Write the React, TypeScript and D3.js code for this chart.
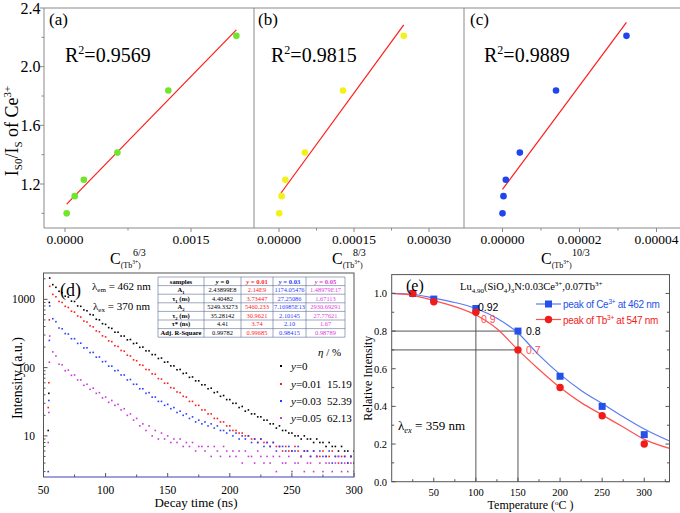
import React from 'react';
import * as d3 from 'd3';

const SERIF = '"Liberation Serif", "Times New Roman", Times, serif';
const SANS = '"Liberation Sans", Arial, Helvetica, sans-serif';

// ---------- (a)-(c) ----------
const ratioIs0Is = [1.0, 1.117, 1.229, 1.414, 1.837, 2.21];
const concA = [0.00002, 0.000116, 0.000224, 0.000624, 0.00123, 0.00204];
const concB = [0.0000004, 0.0000052, 0.0000127, 0.0000517, 0.000128, 0.0002495];
const concC = [0.0, 0.00000026, 0.00000086, 0.0000045, 0.0000139, 0.0000322];
const r2Labels = ['0.9569', '0.9815', '0.9889'];
const powerLabels = ['6/3', '8/3', '10/3'];
const panelLetters = ['(a)', '(b)', '(c)'];
const topYTicks = [1.2, 1.6, 2.0, 2.4];
const topYMinor = [1.0, 1.4, 1.8, 2.2];
const topXTicksA = [0, 0.0015];
const topXTicksB = [0, 0.00015, 0.0003];
const topXTicksC = [0, 0.00002, 0.00004];
const topXMinorA = [0.00075];
const topXMinorB = [0.000075, 0.000225];
const topXMinorC = [0.00001, 0.00003];

// ---------- (d) ----------
const decayLabels = ['y=0', 'y=0.01', 'y=0.03', 'y=0.05'];
const decayStart = 55;
const decayStep = 2.5;
const decayY0 = [
  2050, 1640, 1500, 1310, 1250, 1110, 1080, 940, 930, 800,
  790, 700, 680, 600, 590, 510, 500, 440, 430, 385,
  375, 330, 330, 290, 290, 255, 258, 225, 228, 198,
  200, 176, 176, 155, 155, 136, 138, 120, 121, 106,
  106, 93, 94, 82, 83, 72, 73, 64, 64, 56,
  56, 49, 50, 43, 44, 38, 39, 34, 34, 30,
  30, 26, 27, 23, 24, 21, 21, 19, 19, 17,
  17, 15, 15, 13, 14, 12, 12, 11, 11, 10,
  10, 9, 10, 9, 9, 8, 9, 8, 8, 7,
  8, 7, 7, 6, 7, 6, 6, 5, 6,
];
const decayY001 = [
  1550, 1180, 1090, 930, 900, 790, 760, 670, 650, 570,
  550, 480, 465, 410, 395, 345, 335, 292, 282, 246,
  240, 209, 204, 178, 174, 152, 148, 130, 126, 110,
  108, 94, 93, 81, 80, 69, 68, 59, 59, 51,
  50, 44, 43, 38, 37, 32, 32, 28, 28, 24,
  24, 21, 21, 18, 18, 16, 16, 14, 14, 12,
  12, 11, 11, 10, 10, 9, 9, 8, 9, 8,
  8, 7, 8, 7, 7, 6, 7, 6, 6, 7,
  6, 5, 6, 6, 5, 6, 5, 5, 6, 5,
  5, 6, 5, 4, 5, 5, 4, 5, 4,
];
const decayY003 = [
  800, 520, 470, 380, 370, 315, 310, 265, 265, 226,
  228, 194, 195, 166, 167, 142, 143, 122, 123, 105,
  105, 90, 91, 78, 78, 66, 67, 57, 57, 49,
  49, 42, 43, 37, 37, 32, 32, 28, 29, 25,
  26, 22, 23, 20, 21, 18, 19, 16, 17, 15,
  16, 14, 15, 13, 14, 12, 12, 11, 12, 10,
  11, 9, 10, 9, 10, 8, 9, 8, 9, 7,
  8, 7, 8, 6, 7, 7, 6, 7, 6, 6,
  7, 5, 6, 6, 5, 6, 5, 6, 5, 5,
  6, 4, 5, 5, 4, 5, 4, 5, 4,
];
const decayY005 = [
  290, 170, 148, 112, 110, 90, 92, 77, 78, 66,
  66, 55, 57, 48, 50, 42, 43, 36, 37, 31,
  33, 28, 29, 24, 25, 20, 21, 17, 18, 14,
  15, 12, 14, 10, 12, 9, 11, 9, 10, 8,
  9, 8, 9, 7, 8, 7, 8, 6, 7, 7,
  6, 7, 5, 7, 6, 5, 7, 6, 5, 6,
  5, 6, 4, 6, 5, 5, 4, 6, 5, 4,
  5, 4, 5, 3, 5, 4, 4, 5, 3, 4,
  4, 5, 3, 4, 4, 3, 5, 4, 3, 4,
  4, 3, 4, 5, 3, 4, 3, 4, 3,
];
const decayRiseTimes = [53.8, 54.3, 54.7];
const riseY0 = [12, 42, 900];
const riseY001 = [26, 60, 500];
const riseY003 = [3, 33, 250];
const riseY005 = [8, 22, 120];
const etaPercent = ['', '15.19', '52.39', '62.13'];
const tableHeaders = ['samples', 'y = 0', 'y = 0.01', 'y = 0.03', 'y = 0.05'];
const tableRowLabels = ['A|1', 'τ|1| (ns)', 'A|2', 'τ|2| (ns)', 'τ* (ns)', 'Adj. R-Square'];
const tableY0 = ['2.43899E8', '4.40482', '5249.33273', '35.28142', '4.41', '0.99782'];
const tableY001 = ['2.14E9', '3.73447', '5460.233', '30.9621', '3.74', '0.99685'];
const tableY003 = ['1174.05476', '27.25086', '7.16985E13', '2.10145', '2.10', '0.98415'];
const tableY005 = ['1.48979E17', '1.67113', '2930.69291', '27.77621', '1.67', '0.98789'];
const decayXTicks = [50, 100, 150, 200, 250, 300];
const decayXMinor = [75, 125, 175, 225, 275];
const decayYTicks = [10, 100, 1000];

// ---------- (e) ----------
const temperature = [25, 50, 100, 150, 200, 250, 300];
const ceIntensity = [1.0, 0.97, 0.92, 0.8, 0.56, 0.4, 0.25];
const tbIntensity = [1.0, 0.956, 0.9, 0.7, 0.5, 0.35, 0.2];
const fitTemperature = [0, 25, 50, 75, 100, 125, 150, 175, 200, 225, 250, 275, 300, 330];
const ceFit = [1.0, 0.995, 0.975, 0.952, 0.92, 0.868, 0.79, 0.672, 0.57, 0.485, 0.415, 0.345, 0.28, 0.216];
const tbFit = [1.0, 0.99, 0.962, 0.93, 0.885, 0.812, 0.7, 0.596, 0.5, 0.42, 0.355, 0.29, 0.225, 0.177];
const tempXTicks = [50, 100, 150, 200, 250, 300];
const tempXMinor = [25, 75, 125, 175, 225, 275, 325];
const tempYTicks = [0, 0.2, 0.4, 0.6, 0.8, 1.0];
const tempYMinor = [0.1, 0.3, 0.5, 0.7, 0.9];

const decayColors = ['#000000', '#ff1a1a', '#2a3cff', '#c83ad8'];
const tableColors = ['#000000', '#ff1a1a', '#2a3cff', '#e040e0'];

function linReg(xs: number[], ys: number[]) {
  const mx = d3.mean(xs) as number;
  const my = d3.mean(ys) as number;
  let sxy = 0, sxx = 0;
  xs.forEach((x, i) => { sxy += (x - mx) * (ys[i] - my); sxx += (x - mx) * (x - mx); });
  const slope = sxy / sxx;
  return { slope, intercept: my - slope * mx };
}

const topDefs = [
  { conc: concA, domain: [-0.00025, 0.00225], range: [44, 254], ticks: topXTicksA, minor: topXMinorA, digits: 4, color: '#6ee62a', r2x: 65, lx: 49, cx: 110, sx: 23 },
  { conc: concB, domain: [-0.00005, 0.00037], range: [254, 464], ticks: topXTicksB, minor: topXMinorB, digits: 5, color: '#f2f21a', r2x: 271, lx: 258, cx: 332, sx: 21 },
  { conc: concC, domain: [-0.00001, 0.00005], range: [464, 695], ticks: topXTicksC, minor: topXMinorC, digits: 5, color: '#1f45ee', r2x: 484, lx: 470, cx: 541, sx: 31 },
];

const yTop = d3.scaleLinear().domain([0.9, 2.4]).range([228, 8]);
const AX = '#8a8a8a';

function TopPanel({ i }: { i: number }) {
  const def = topDefs[i];
  const x = d3.scaleLinear().domain(def.domain).range(def.range);
  const fit = linReg(def.conc, ratioIs0Is);
  const x0 = d3.min(def.conc) as number;
  const x1 = d3.max(def.conc) as number;
  const line = d3.line<number>().x(d => x(d)).y(d => yTop(fit.intercept + fit.slope * d));
  return (
    <g>
      {def.ticks.map(t => (
        <g key={t}>
          <line x1={x(t)} x2={x(t)} y1={228} y2={232} stroke={AX} />
          <text x={x(t)} y={243.5} fontSize={13.5} textAnchor="middle">{t.toFixed(def.digits)}</text>
        </g>
      ))}
      {def.minor.map(t => (
        <line key={t} x1={x(t)} x2={x(t)} y1={228} y2={230.5} stroke={AX} />
      ))}
      <path d={line([x0, x1]) || ''} stroke="#ff1a1a" strokeWidth={1.2} fill="none" />
      {def.conc.map((c, k) => (
        <circle key={k} cx={x(c)} cy={yTop(ratioIs0Is[k])} r={3.3} fill={def.color} />
      ))}
      <text x={def.lx} y={25} fontSize={17}>{panelLetters[i]}</text>
      <text x={def.r2x} y={62} fontSize={20}>R<tspan dy={-8} fontSize={12}>2</tspan><tspan dy={8}>={r2Labels[i]}</tspan></text>
      <text x={def.cx} y={264} fontSize={16}>C<tspan dy={3.5} fontSize={8}>(Tb</tspan><tspan dy={-3.5} fontSize={5.5}>3+</tspan><tspan dy={3.5} fontSize={8}>)</tspan></text>
      <text x={def.cx + def.sx} y={256} fontSize={10}>{powerLabels[i]}</text>
    </g>
  );
}

function TopPanels() {
  return (
    <g>
      <line x1={44} x2={695} y1={8} y2={8} stroke={AX} />
      <line x1={44} x2={695} y1={228} y2={228} stroke={AX} />
      <line x1={44} x2={44} y1={8} y2={228} stroke={AX} />
      <line x1={254} x2={254} y1={8} y2={228} stroke={AX} />
      <line x1={464} x2={464} y1={8} y2={228} stroke={AX} />
      {topYTicks.map(t => (
        <g key={t}>
          <line x1={40} x2={44} y1={yTop(t)} y2={yTop(t)} stroke={AX} />
          <text x={40.5} y={yTop(t) + 5.5} fontSize={16} textAnchor="end">{t.toFixed(1)}</text>
        </g>
      ))}
      {topYMinor.map(t => (
        <line key={t} x1={41.5} x2={44} y1={yTop(t)} y2={yTop(t)} stroke={AX} />
      ))}
      <text transform="translate(18,131) rotate(-90)" textAnchor="middle" fontSize={18}>
        I<tspan dy={4} fontSize={11}>S0</tspan><tspan dy={-4}>/I</tspan><tspan dy={4} fontSize={11}>S</tspan><tspan dy={-4}> of Ce</tspan><tspan dy={-7} fontSize={11}>3+</tspan>
      </text>
      {[0, 1, 2].map(i => <TopPanel key={i} i={i} />)}
    </g>
  );
}

// ---------- (d) ----------
const D = { l: 43.5, r: 354, t: 273, b: 477 };
const xD = d3.scaleLinear().domain([50, 300]).range([D.l, D.r]);
const yD = d3.scaleLog().domain([2.5, 2430]).range([D.b, D.t]);

function SubText({ s, fs }: { s: string; fs: number }) {
  const parts = s.split('|');
  return (
    <>
      {parts.map((p, k) => k % 2 === 1
        ? <tspan key={k} dy={2} fontSize={fs * 0.7}>{p}</tspan>
        : <tspan key={k} dy={k === 0 ? 0 : -2}>{p}</tspan>)}
    </>
  );
}

function DecayPanel() {
  const series = [decayY0, decayY001, decayY003, decayY005];
  const rises = [riseY0, riseY001, riseY003, riseY005];
  const minorY: number[] = [];
  [1, 10, 100, 1000].forEach(dec => { for (let m = 2; m <= 9; m++) { const v = dec * m; if (v > 2.5 && v < 2430) minorY.push(v); } });
  const colX = [158, 204, 241, 273, 306, 345];
  const rowY = [277, 285.6, 294.2, 302.8, 311.4, 320, 328.6, 337.2];
  const cols = [tableY0, tableY001, tableY003, tableY005];
  const legY = [366, 384, 401, 418];
  return (
    <g>
      <defs>
        <clipPath id="clipD"><rect x={D.l} y={D.t} width={D.r - D.l} height={D.b - D.t} /></clipPath>
      </defs>
      <g clipPath="url(#clipD)">
        {series.map((vals, s) => (
          <g key={s} fill={decayColors[s]}>
            {vals.map((v, k) => {
              const t = decayStart + decayStep * k;
              return <rect key={k} x={xD(t) - 0.8} y={yD(v) - 0.8} width={1.6} height={1.6} />;
            })}
            {rises[s].map((v, k) => (
              <rect key={'r' + k} x={xD(decayRiseTimes[k]) - 0.8} y={yD(v) - 0.8} width={1.6} height={1.6} />
            ))}
          </g>
        ))}
      </g>
      <rect x={D.l} y={D.t} width={D.r - D.l} height={D.b - D.t} fill="none" stroke="#555" strokeWidth={1} />
      <line x1={D.l} x2={D.r} y1={D.b} y2={D.b} stroke="#98a0ea" strokeWidth={1.6} />
      {decayXTicks.map(t => (
        <g key={t}>
          <line x1={xD(t)} x2={xD(t)} y1={D.b} y2={D.b - 4} stroke="#555" />
          <text x={xD(t)} y={494} fontSize={11.5} textAnchor="middle">{t}</text>
        </g>
      ))}
      {decayXMinor.map(t => (
        <line key={t} x1={xD(t)} x2={xD(t)} y1={D.b} y2={D.b - 2.5} stroke="#555" />
      ))}
      {decayYTicks.map(t => (
        <g key={t}>
          <line x1={D.l} x2={D.l + 4} y1={yD(t)} y2={yD(t)} stroke="#555" />
          <text x={35} y={yD(t) + 4} fontSize={11.5} textAnchor="end">{t}</text>
        </g>
      ))}
      {minorY.map(t => (
        <line key={t} x1={D.l} x2={D.l + 2} y1={yD(t)} y2={yD(t)} stroke="#555" />
      ))}
      <text x={196} y={507} fontSize={13} textAnchor="middle">Decay time (ns)</text>
      <text transform="translate(22,378) rotate(-90)" fontSize={14} textAnchor="middle">Intensity (a.u.)</text>
      <text x={60} y={296} fontSize={18}>(d)</text>
      <text x={92} y={290} fontSize={11}>λ<tspan dy={2} fontSize={7}>em</tspan><tspan dy={-2}> = 462 nm</tspan></text>
      <text x={93} y={310} fontSize={11}>λ<tspan dy={2} fontSize={7}>ex</tspan><tspan dy={-2}> = 370 nm</tspan></text>

      <rect x={colX[0]} y={rowY[0]} width={colX[5] - colX[0]} height={rowY[7] - rowY[0]} fill="#fff" />
      {rowY.map((y, k) => (
        <line key={'h' + k} x1={colX[0]} x2={colX[5]} y1={y} y2={y} stroke="#5d6b95" strokeWidth={0.6} />
      ))}
      {colX.map((x, k) => (
        <line key={'v' + k} x1={x} x2={x} y1={rowY[0]} y2={rowY[7]} stroke="#5d6b95" strokeWidth={0.6} />
      ))}
      {tableHeaders.map((h, c) => (
        <text key={'th' + c} x={(colX[c] + colX[c + 1]) / 2} y={rowY[1] - 2} fontSize={6.6} fontWeight="bold" textAnchor="middle" fill={c === 0 ? '#000' : tableColors[c - 1]}>
          {c === 0 ? h : <><tspan fontStyle="italic">y</tspan>{h.slice(1)}</>}
        </text>
      ))}
      {tableRowLabels.map((lab, r) => (
        <text key={'tl' + r} x={(colX[0] + colX[1]) / 2} y={rowY[r + 2] - 2.2} fontSize={6.6} fontWeight="bold" textAnchor="middle">
          <SubText s={lab} fs={6.6} />
        </text>
      ))}
      {cols.map((col, c) => col.map((v, r) => (
        <text key={'c' + c + r} x={(colX[c + 1] + colX[c + 2]) / 2} y={rowY[r + 2] - 2.2} fontSize={6.4} textAnchor="middle" fill={tableColors[c]}>{v}</text>
      )))}

      <text x={318} y={356} fontSize={11} fontStyle="italic">η<tspan fontStyle="normal"> / %</tspan></text>
      {decayLabels.map((lab, k) => (
        <g key={lab}>
          <rect x={280} y={legY[k] - 1} width={2} height={2} fill={decayColors[k]} />
          <text x={291} y={legY[k] + 4} fontSize={11}><tspan fontStyle="italic">y</tspan>{lab.slice(1)}</text>
          <text x={327} y={legY[k] + 4} fontSize={11}>{etaPercent[k]}</text>
        </g>
      ))}
    </g>
  );
}

// ---------- (e) ----------
const E = { l: 391.7, r: 669.5, t: 274.6, b: 481.7 };
const xE = d3.scaleLinear().domain([0, 330]).range([E.l, E.r]);
const yE = d3.scaleLinear().domain([0, 1.1]).range([E.b, E.t]);
const CE_BLUE = '#2452e8';
const CE_LINE = '#5a7cf0';
const TB_RED = '#f01c1c';
const TB_LINE = '#ff5050';

function TempPanel() {
  const ceLine = d3.line<number>().x((_, k) => xE(fitTemperature[k])).y(d => yE(d)).curve(d3.curveMonotoneX)(ceFit) || '';
  const tbLine = d3.line<number>().x((_, k) => xE(fitTemperature[k])).y(d => yE(d)).curve(d3.curveMonotoneX)(tbFit) || '';
  return (
    <g>
      <defs>
        <clipPath id="clipE"><rect x={E.l} y={E.t} width={E.r - E.l} height={E.b - E.t} /></clipPath>
      </defs>
      <line x1={xE(0)} x2={xE(150)} y1={yE(0.8)} y2={yE(0.8)} stroke="#555" />
      <line x1={xE(0)} x2={xE(150)} y1={yE(0.7)} y2={yE(0.7)} stroke="#555" />
      <line x1={xE(100)} x2={xE(100)} y1={yE(0)} y2={yE(0.92)} stroke="#555" />
      <line x1={xE(150)} x2={xE(150)} y1={yE(0)} y2={yE(0.8)} stroke="#555" />
      <g clipPath="url(#clipE)">
        <path d={ceLine} stroke={CE_LINE} strokeWidth={1.2} fill="none" />
        <path d={tbLine} stroke={TB_LINE} strokeWidth={1.2} fill="none" />
        {temperature.map((t, k) => (
          <rect key={'c' + k} x={xE(t) - 3.5} y={yE(ceIntensity[k]) - 3.5} width={7} height={7} fill={CE_BLUE} />
        ))}
        {temperature.map((t, k) => (
          <circle key={'t' + k} cx={xE(t)} cy={yE(tbIntensity[k])} r={3.7} fill={TB_RED} />
        ))}
      </g>
      <rect x={E.l} y={E.t} width={E.r - E.l} height={E.b - E.t} fill="none" stroke="#555" />
      {tempXTicks.map(t => (
        <g key={t}>
          <line x1={xE(t)} x2={xE(t)} y1={E.b} y2={E.b - 4} stroke="#555" />
          <text x={xE(t)} y={496} fontSize={10.5} textAnchor="middle">{t}</text>
        </g>
      ))}
      {tempXMinor.map(t => (
        <line key={t} x1={xE(t)} x2={xE(t)} y1={E.b} y2={E.b - 2.5} stroke="#555" />
      ))}
      {tempYTicks.map(t => (
        <g key={t}>
          <line x1={E.l} x2={E.l + 4} y1={yE(t)} y2={yE(t)} stroke="#555" />
          <line x1={E.r} x2={E.r - 4} y1={yE(t)} y2={yE(t)} stroke="#555" />
          <text x={387} y={yE(t) + 3.8} fontSize={10.5} textAnchor="end">{t.toFixed(1)}</text>
        </g>
      ))}
      {tempYMinor.map(t => (
        <g key={t}>
          <line x1={E.l} x2={E.l + 2.5} y1={yE(t)} y2={yE(t)} stroke="#555" />
          <line x1={E.r} x2={E.r - 2.5} y1={yE(t)} y2={yE(t)} stroke="#555" />
        </g>
      ))}
      <text x={(E.l + E.r) / 2} y={509} fontSize={12} textAnchor="middle">Temperature (<tspan dy={-4} fontSize={7}>o</tspan><tspan dy={4}>C )</tspan></text>
      <text transform={`translate(372,${(E.t + E.b) / 2}) rotate(-90)`} fontSize={12} textAnchor="middle">Relative Intensity</text>
      <text x={406} y={291} fontSize={16}>(e)</text>
      <text x={460} y={290} fontSize={10.5}>
        Lu<tspan dy={2.5} fontSize={7}>4.90</tspan><tspan dy={-2.5}>(SiO</tspan><tspan dy={2.5} fontSize={7}>4</tspan><tspan dy={-2.5}>)</tspan><tspan dy={2.5} fontSize={7}>3</tspan><tspan dy={-2.5}>N:0.03Ce</tspan><tspan dy={-4} fontSize={7}>3+</tspan><tspan dy={4}>,0.07Tb</tspan><tspan dy={-4} fontSize={7}>3+</tspan>
      </text>
      <line x1={536} x2={561} y1={304} y2={304} stroke={CE_LINE} strokeWidth={1.2} />
      <rect x={545} y={300.5} width={7} height={7} fill={CE_BLUE} />
      <text x={563} y={308} fontSize={10} letterSpacing={-0.3} fontFamily={SANS} fill={CE_BLUE}>peak of Ce<tspan dy={-4} fontSize={6.5}>3+</tspan><tspan dy={4}> at 462 nm</tspan></text>
      <line x1={536} x2={561} y1={319.5} y2={319.5} stroke={TB_LINE} strokeWidth={1.2} />
      <circle cx={548.5} cy={319.5} r={3.7} fill={TB_RED} />
      <text x={563} y={323.5} fontSize={10} letterSpacing={-0.3} fontFamily={SANS} fill={TB_RED}>peak of Tb<tspan dy={-4} fontSize={6.5}>3+</tspan><tspan dy={4}> at 547 nm</tspan></text>
      <text x={478} y={311} fontSize={10.5} fontFamily={SANS}>0.92</text>
      <text x={481} y={322.5} fontSize={10.5} fontFamily={SANS} fill={TB_LINE}>0.9</text>
      <text x={526} y={335} fontSize={10.5} fontFamily={SANS}>0.8</text>
      <text x={526} y={353.5} fontSize={10.5} fontFamily={SANS} fill={TB_LINE}>0.7</text>
      <text x={398} y={430} fontSize={13}>λ<tspan dy={3} fontSize={8.5} fontStyle="italic">ex</tspan><tspan dy={-3}> = 359 nm</tspan></text>
    </g>
  );
}

export default function App() {
  return (
    <svg width={680} height={513} viewBox="0 0 680 513" style={{ position: 'absolute', left: 0, top: 0, background: '#fff' }} fontFamily={SERIF}>
      <rect width={680} height={513} fill="#fff" />
      <TopPanels />
      <DecayPanel />
      <TempPanel />
    </svg>
  );
}
